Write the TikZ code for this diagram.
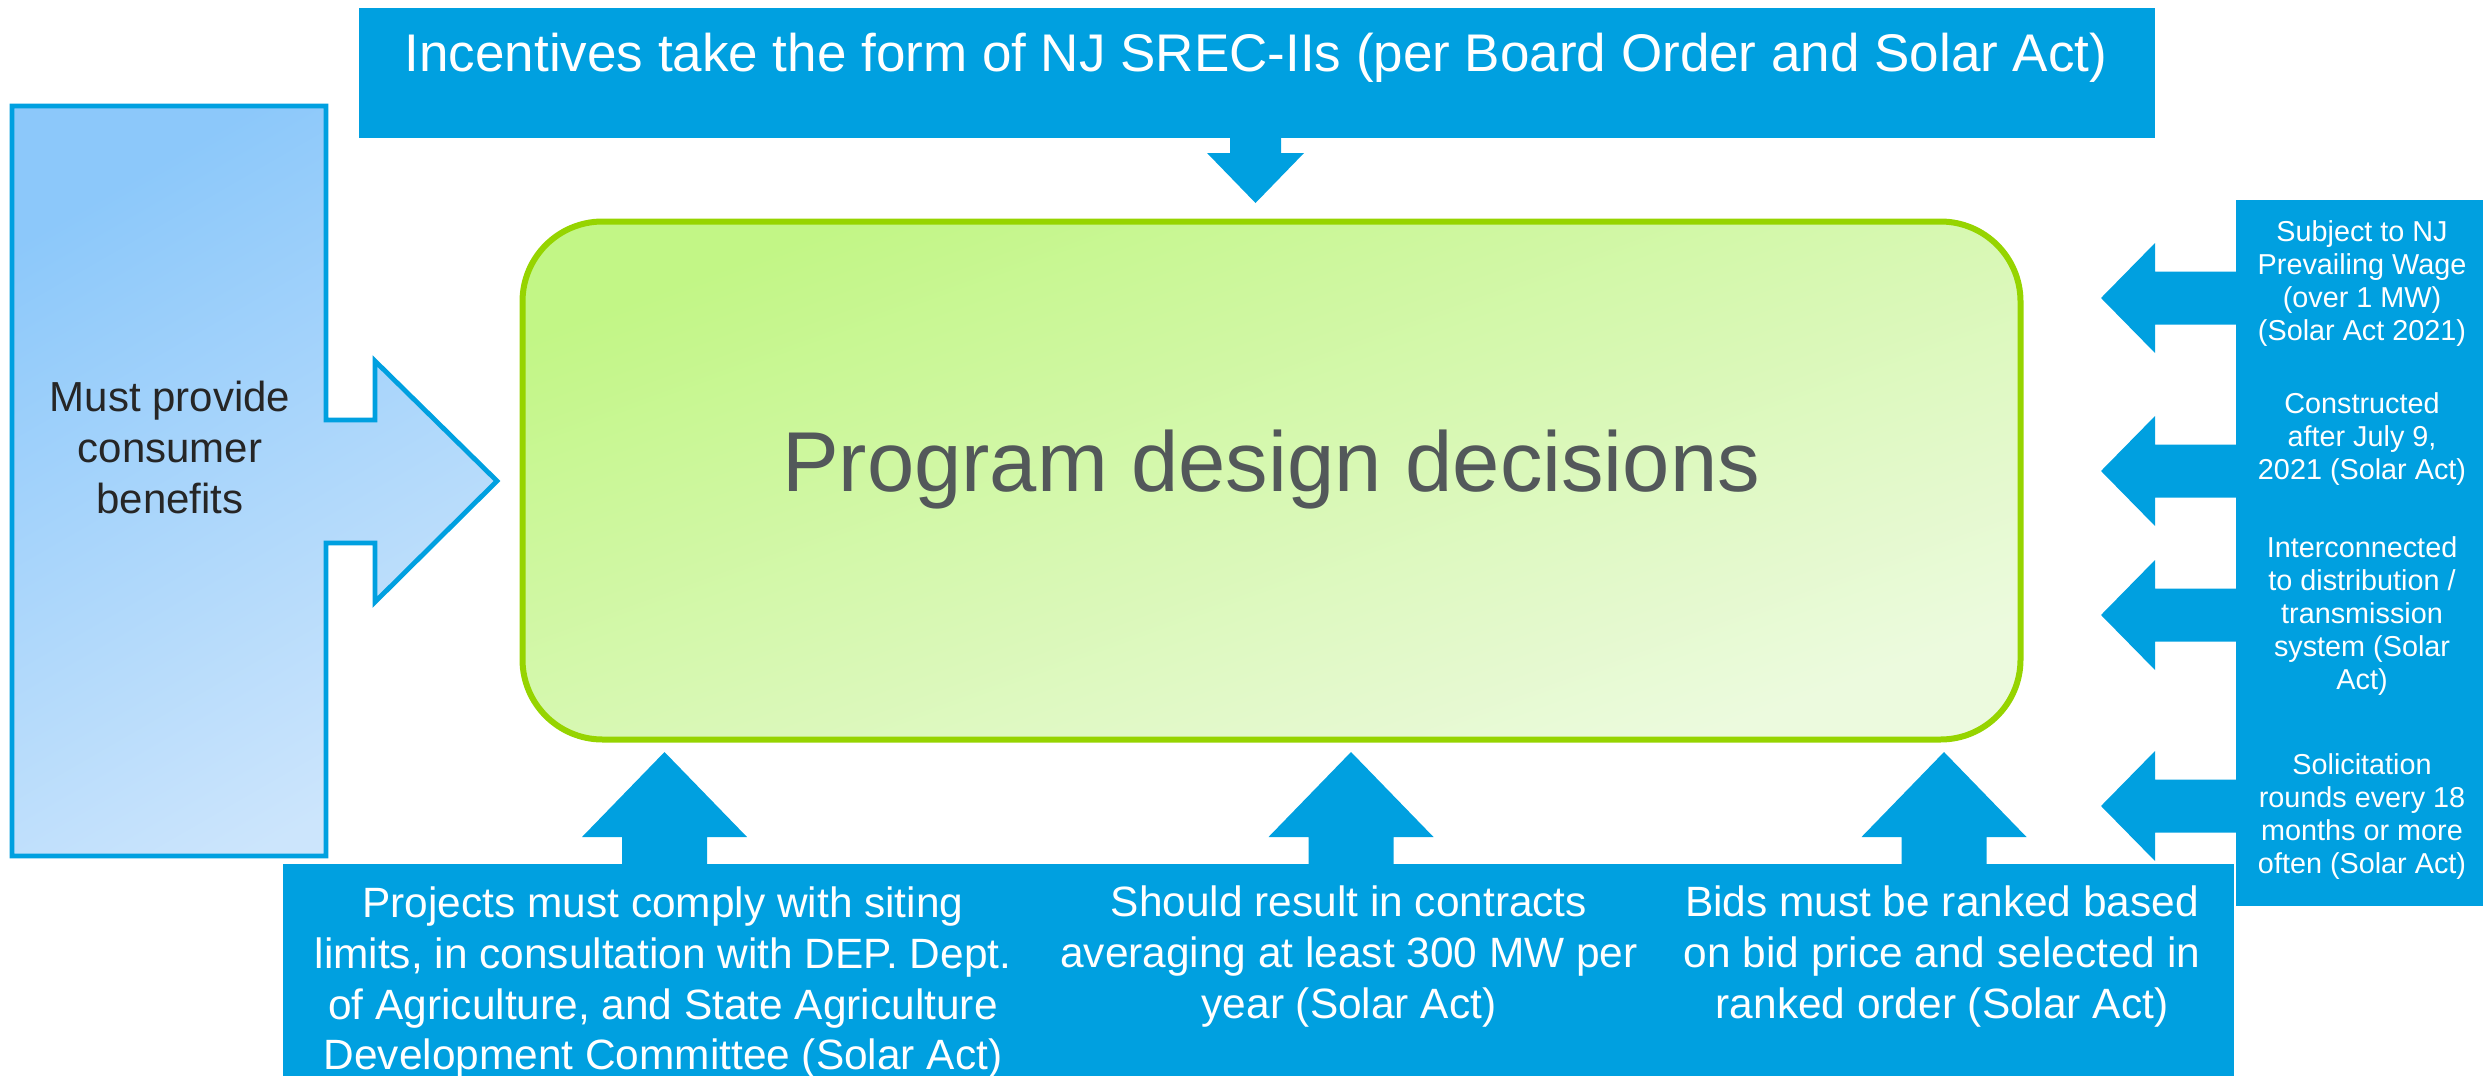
\documentclass[tikz,border=0pt]{standalone}
\usepackage{fontspec}
\setmainfont{Liberation Sans}
\definecolor{njblue}{RGB}{0,160,224}
\definecolor{njgreen}{RGB}{150,212,0}
\definecolor{gtop}{RGB}{194,246,134}
\definecolor{gbot}{RGB}{236,250,222}
\definecolor{ltop}{RGB}{140,200,250}
\definecolor{lbot}{RGB}{204,229,252}
\definecolor{maingray}{RGB}{83,88,90}
\definecolor{darktext}{RGB}{38,38,38}
\newcommand{\mlines}[1]{\vtop{\halign{\hfil##\hfil\cr#1\crcr}}}
\begin{document}
\begin{tikzpicture}[x=0.5pt,y=-0.5pt,
  bluebox/.style={fill=njblue,draw=none,inner sep=0pt,outer sep=0pt},
  mainbox/.style={draw=njgreen,line width=3pt,rounded corners=40pt,
    top color=gtop,bottom color=gbot,shading angle=20,inner sep=0pt},
  wtext/.style={text=white,inner sep=0pt,anchor=base},
  toptext/.style={wtext,font=\fontsize{26.5}{30}\selectfont},
  bottext/.style={wtext,font=\fontsize{21.2}{25.4}\selectfont},
  rtext/.style={wtext,font=\fontsize{14.4}{16.5}\selectfont},
  blockarrow/.style={fill=njblue,draw=none}
]
\useasboundingbox (0,0) rectangle (2483,1076);

% top box
\node[bluebox,minimum width=898pt,minimum height=65pt] (top) at (1257,73) {};
\node[toptext] (toptxt) at (1256,71.5) {Incentives take the form of NJ SREC-IIs (per Board Order and Solar Act)};

% main box
\node[mainbox,minimum width=749pt,minimum height=259pt] (main) at (1271.5,480.5) {};
\node[anchor=base,inner sep=0pt,text=maingray,font=\fontsize{42.5}{50}\selectfont] (maintxt) at (1271,491) {Program design decisions};

% top arrow
\fill[blockarrow] (1230,136) -- (1281,136) -- (1281,153) -- (1304,153) -- (1255.5,203) -- (1207,153) -- (1230,153) -- cycle;

% left arrow-box
\path[draw=njblue,line width=2.4pt,top color=ltop,bottom color=lbot,shading angle=30]
  (12,106) -- (326,106) -- (326,420) -- (375,420) -- (375,361) -- (497,481)
  -- (375,602) -- (375,543) -- (326,543) -- (326,856) -- (12,856) -- cycle;
\node[anchor=base,inner sep=0pt,text=darktext,font=\fontsize{21}{25.6}\selectfont] (lefttxt) at (170,411)
  {\mlines{Must provide\cr consumer\cr benefits}};

% right box
\node[bluebox,minimum width=123.5pt,minimum height=353pt] (rbox) at (2359.5,553) {};
\node[rtext] (r1) at (2362,241) {\mlines{Subject to NJ\cr Prevailing Wage\cr (over 1 MW)\cr (Solar Act 2021)}};
\node[rtext] (r2) at (2362,413.5) {\mlines{Constructed\cr after July 9,\cr 2021 (Solar Act)}};
\node[rtext] (r3) at (2362,557.5) {\mlines{Interconnected\cr to distribution /\cr transmission\cr system (Solar\cr Act)}};
\node[rtext] (r4) at (2362,774.5) {\mlines{Solicitation\cr rounds every 18\cr months or more\cr often (Solar Act)}};
\foreach \cy in {298,471,615,806}
  \fill[blockarrow] (2238,\cy-26.5) -- (2155,\cy-26.5) -- (2155,\cy-55) -- (2101,\cy)
    -- (2155,\cy+55) -- (2155,\cy+26.5) -- (2238,\cy+26.5) -- cycle;

% bottom boxes
\node[bluebox,minimum width=378pt,minimum height=106pt] (b1) at (661,970) {};
\node[bluebox,minimum width=309.5pt,minimum height=106pt] (b2) at (1348.5,970) {};
\node[bluebox,minimum width=288pt,minimum height=106pt] (b3) at (1946,970) {};
\node[bottext] (b1t) at (663,917.5) {\mlines{Projects must comply with siting\cr limits, in consultation with DEP. Dept.\cr of Agriculture, and State Agriculture\cr Development Committee (Solar Act)}};
\node[bottext] (b2t) at (1349,916.5) {\mlines{Should result in contracts\cr averaging at least 300 MW per\cr year (Solar Act)}};
\node[bottext] (b3t) at (1942,916.5) {\mlines{Bids must be ranked based\cr on bid price and selected in\cr ranked order (Solar Act)}};
\foreach \cx in {664.5,1351,1944}
  \fill[blockarrow] (\cx-42.5,866) -- (\cx-42.5,837) -- (\cx-82.5,837) -- (\cx,752)
    -- (\cx+82.5,837) -- (\cx+42.5,837) -- (\cx+42.5,866) -- cycle;
\end{tikzpicture}
\end{document}
